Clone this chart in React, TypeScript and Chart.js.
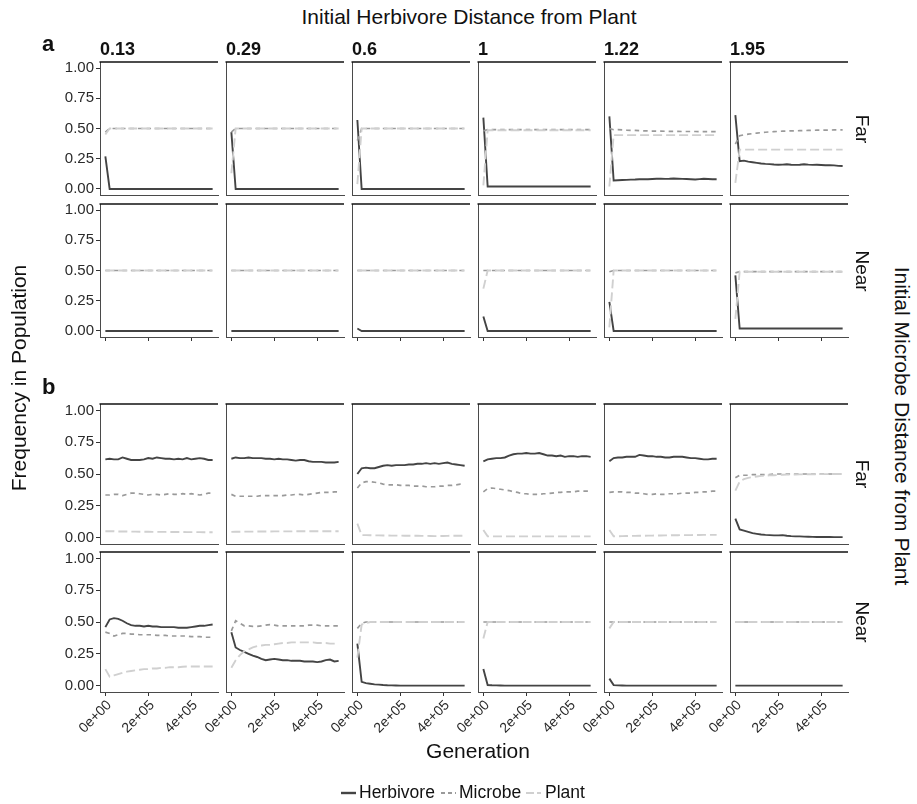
import React, { useEffect, useRef } from 'react';
import { Chart, registerables } from 'chart.js';

Chart.register(...registerables);

// ---------- data ----------
const generations = [
  0, 20000, 40000, 60000, 80000, 100000, 120000, 140000, 160000, 180000, 200000, 220000, 240000,
  260000, 280000, 300000, 320000, 340000, 360000, 380000, 400000, 420000, 440000, 460000, 480000, 500000,
];
const xTickValues = [0, 200000, 400000];
const xTickLabels = ['0e+00', '2e+05', '4e+05'];
const yTickValues = [0, 0.25, 0.5, 0.75, 1];
const yTickLabels = ['0.00', '0.25', '0.50', '0.75', '1.00'];
const herbivoreDistances = ['0.13', '0.29', '0.6', '1', '1.22', '1.95'];
const microbeDistances = ['Far', 'Near'];
const speciesNames = ['Herbivore', 'Microbe', 'Plant'];

// panel a, Far
const aFarHerbivore = [
  [0.27, 0, 0, 0, 0, 0, 0, 0, 0, 0, 0, 0, 0, 0, 0, 0, 0, 0, 0, 0, 0, 0, 0, 0, 0, 0],
  [0.47, 0, 0, 0, 0, 0, 0, 0, 0, 0, 0, 0, 0, 0, 0, 0, 0, 0, 0, 0, 0, 0, 0, 0, 0, 0],
  [0.57, 0, 0, 0, 0, 0, 0, 0, 0, 0, 0, 0, 0, 0, 0, 0, 0, 0, 0, 0, 0, 0, 0, 0, 0, 0],
  [0.59, 0.02, 0.02, 0.02, 0.02, 0.02, 0.02, 0.02, 0.02, 0.02, 0.02, 0.02, 0.02, 0.02, 0.02, 0.02, 0.02, 0.02, 0.02, 0.02, 0.02, 0.02, 0.02, 0.02, 0.02, 0.02],
  [0.6, 0.07, 0.072, 0.074, 0.075, 0.077, 0.078, 0.08, 0.081, 0.08, 0.082, 0.084, 0.085, 0.083, 0.084, 0.086, 0.085, 0.083, 0.082, 0.08, 0.078, 0.081, 0.084, 0.082, 0.08, 0.08],
  [0.61, 0.23, 0.234, 0.226, 0.221, 0.216, 0.211, 0.207, 0.205, 0.202, 0.2, 0.201, 0.204, 0.2, 0.199, 0.2, 0.204, 0.201, 0.199, 0.2, 0.198, 0.196, 0.196, 0.195, 0.191, 0.19],
];
const aFarMicrobe = [
  [0.47, 0.5, 0.5, 0.5, 0.5, 0.5, 0.5, 0.5, 0.5, 0.5, 0.5, 0.5, 0.5, 0.5, 0.5, 0.5, 0.5, 0.5, 0.5, 0.5, 0.5, 0.5, 0.5, 0.5, 0.5, 0.5],
  [0.47, 0.5, 0.5, 0.5, 0.5, 0.5, 0.5, 0.5, 0.5, 0.5, 0.5, 0.5, 0.5, 0.5, 0.5, 0.5, 0.5, 0.5, 0.5, 0.5, 0.5, 0.5, 0.5, 0.5, 0.5, 0.5],
  [0.4, 0.5, 0.5, 0.5, 0.5, 0.5, 0.5, 0.5, 0.5, 0.5, 0.5, 0.5, 0.5, 0.5, 0.5, 0.5, 0.5, 0.5, 0.5, 0.5, 0.5, 0.5, 0.5, 0.5, 0.5, 0.5],
  [0.48, 0.49, 0.49, 0.49, 0.49, 0.49, 0.49, 0.49, 0.49, 0.49, 0.49, 0.49, 0.49, 0.49, 0.49, 0.49, 0.49, 0.49, 0.49, 0.49, 0.49, 0.49, 0.49, 0.49, 0.49, 0.49],
  [0.5, 0.49, 0.49, 0.488, 0.486, 0.485, 0.484, 0.482, 0.481, 0.48, 0.479, 0.478, 0.478, 0.477, 0.476, 0.476, 0.476, 0.475, 0.475, 0.475, 0.475, 0.474, 0.474, 0.474, 0.474, 0.474],
  [0.37, 0.44, 0.448, 0.453, 0.458, 0.462, 0.466, 0.469, 0.472, 0.474, 0.476, 0.478, 0.479, 0.48, 0.481, 0.482, 0.483, 0.484, 0.485, 0.486, 0.486, 0.487, 0.487, 0.488, 0.488, 0.488],
];
const aFarPlant = [
  [0.45, 0.5, 0.5, 0.5, 0.5, 0.5, 0.5, 0.5, 0.5, 0.5, 0.5, 0.5, 0.5, 0.5, 0.5, 0.5, 0.5, 0.5, 0.5, 0.5, 0.5, 0.5, 0.5, 0.5, 0.5, 0.5],
  [0.13, 0.5, 0.5, 0.5, 0.5, 0.5, 0.5, 0.5, 0.5, 0.5, 0.5, 0.5, 0.5, 0.5, 0.5, 0.5, 0.5, 0.5, 0.5, 0.5, 0.5, 0.5, 0.5, 0.5, 0.5, 0.5],
  [0.04, 0.5, 0.5, 0.5, 0.5, 0.5, 0.5, 0.5, 0.5, 0.5, 0.5, 0.5, 0.5, 0.5, 0.5, 0.5, 0.5, 0.5, 0.5, 0.5, 0.5, 0.5, 0.5, 0.5, 0.5, 0.5],
  [0.03, 0.485, 0.485, 0.485, 0.485, 0.485, 0.485, 0.485, 0.485, 0.485, 0.485, 0.485, 0.485, 0.485, 0.485, 0.485, 0.485, 0.485, 0.485, 0.485, 0.485, 0.485, 0.485, 0.485, 0.485, 0.485],
  [0.02, 0.445, 0.445, 0.445, 0.445, 0.445, 0.445, 0.445, 0.445, 0.445, 0.445, 0.445, 0.445, 0.445, 0.445, 0.445, 0.445, 0.445, 0.445, 0.445, 0.445, 0.445, 0.445, 0.445, 0.445, 0.445],
  [0.05, 0.325, 0.325, 0.325, 0.325, 0.325, 0.325, 0.325, 0.325, 0.325, 0.325, 0.325, 0.325, 0.325, 0.325, 0.325, 0.325, 0.325, 0.325, 0.325, 0.325, 0.325, 0.325, 0.325, 0.325, 0.325],
];

// panel a, Near
const aNearHerbivore = [
  [0, 0, 0, 0, 0, 0, 0, 0, 0, 0, 0, 0, 0, 0, 0, 0, 0, 0, 0, 0, 0, 0, 0, 0, 0, 0],
  [0, 0, 0, 0, 0, 0, 0, 0, 0, 0, 0, 0, 0, 0, 0, 0, 0, 0, 0, 0, 0, 0, 0, 0, 0, 0],
  [0.02, 0, 0, 0, 0, 0, 0, 0, 0, 0, 0, 0, 0, 0, 0, 0, 0, 0, 0, 0, 0, 0, 0, 0, 0, 0],
  [0.12, 0, 0, 0, 0, 0, 0, 0, 0, 0, 0, 0, 0, 0, 0, 0, 0, 0, 0, 0, 0, 0, 0, 0, 0, 0],
  [0.24, 0, 0, 0, 0, 0, 0, 0, 0, 0, 0, 0, 0, 0, 0, 0, 0, 0, 0, 0, 0, 0, 0, 0, 0, 0],
  [0.46, 0.02, 0.02, 0.02, 0.02, 0.02, 0.02, 0.02, 0.02, 0.02, 0.02, 0.02, 0.02, 0.02, 0.02, 0.02, 0.02, 0.02, 0.02, 0.02, 0.02, 0.02, 0.02, 0.02, 0.02, 0.02],
];
const aNearMicrobe = [
  [0.5, 0.5, 0.5, 0.5, 0.5, 0.5, 0.5, 0.5, 0.5, 0.5, 0.5, 0.5, 0.5, 0.5, 0.5, 0.5, 0.5, 0.5, 0.5, 0.5, 0.5, 0.5, 0.5, 0.5, 0.5, 0.5],
  [0.5, 0.5, 0.5, 0.5, 0.5, 0.5, 0.5, 0.5, 0.5, 0.5, 0.5, 0.5, 0.5, 0.5, 0.5, 0.5, 0.5, 0.5, 0.5, 0.5, 0.5, 0.5, 0.5, 0.5, 0.5, 0.5],
  [0.5, 0.5, 0.5, 0.5, 0.5, 0.5, 0.5, 0.5, 0.5, 0.5, 0.5, 0.5, 0.5, 0.5, 0.5, 0.5, 0.5, 0.5, 0.5, 0.5, 0.5, 0.5, 0.5, 0.5, 0.5, 0.5],
  [0.5, 0.5, 0.5, 0.5, 0.5, 0.5, 0.5, 0.5, 0.5, 0.5, 0.5, 0.5, 0.5, 0.5, 0.5, 0.5, 0.5, 0.5, 0.5, 0.5, 0.5, 0.5, 0.5, 0.5, 0.5, 0.5],
  [0.49, 0.5, 0.5, 0.5, 0.5, 0.5, 0.5, 0.5, 0.5, 0.5, 0.5, 0.5, 0.5, 0.5, 0.5, 0.5, 0.5, 0.5, 0.5, 0.5, 0.5, 0.5, 0.5, 0.5, 0.5, 0.5],
  [0.48, 0.49, 0.49, 0.49, 0.49, 0.49, 0.49, 0.49, 0.49, 0.49, 0.49, 0.49, 0.49, 0.49, 0.49, 0.49, 0.49, 0.49, 0.49, 0.49, 0.49, 0.49, 0.49, 0.49, 0.49, 0.49],
];
const aNearPlant = [
  [0.5, 0.5, 0.5, 0.5, 0.5, 0.5, 0.5, 0.5, 0.5, 0.5, 0.5, 0.5, 0.5, 0.5, 0.5, 0.5, 0.5, 0.5, 0.5, 0.5, 0.5, 0.5, 0.5, 0.5, 0.5, 0.5],
  [0.5, 0.5, 0.5, 0.5, 0.5, 0.5, 0.5, 0.5, 0.5, 0.5, 0.5, 0.5, 0.5, 0.5, 0.5, 0.5, 0.5, 0.5, 0.5, 0.5, 0.5, 0.5, 0.5, 0.5, 0.5, 0.5],
  [0.5, 0.5, 0.5, 0.5, 0.5, 0.5, 0.5, 0.5, 0.5, 0.5, 0.5, 0.5, 0.5, 0.5, 0.5, 0.5, 0.5, 0.5, 0.5, 0.5, 0.5, 0.5, 0.5, 0.5, 0.5, 0.5],
  [0.35, 0.5, 0.5, 0.5, 0.5, 0.5, 0.5, 0.5, 0.5, 0.5, 0.5, 0.5, 0.5, 0.5, 0.5, 0.5, 0.5, 0.5, 0.5, 0.5, 0.5, 0.5, 0.5, 0.5, 0.5, 0.5],
  [0.03, 0.5, 0.5, 0.5, 0.5, 0.5, 0.5, 0.5, 0.5, 0.5, 0.5, 0.5, 0.5, 0.5, 0.5, 0.5, 0.5, 0.5, 0.5, 0.5, 0.5, 0.5, 0.5, 0.5, 0.5, 0.5],
  [0.1, 0.49, 0.49, 0.49, 0.49, 0.49, 0.49, 0.49, 0.49, 0.49, 0.49, 0.49, 0.49, 0.49, 0.49, 0.49, 0.49, 0.49, 0.49, 0.49, 0.49, 0.49, 0.49, 0.49, 0.49, 0.49],
];

// panel b, Far
const bFarHerbivore = [
  [0.615, 0.62, 0.615, 0.615, 0.63, 0.62, 0.61, 0.61, 0.61, 0.615, 0.625, 0.62, 0.63, 0.625, 0.62, 0.62, 0.615, 0.62, 0.615, 0.625, 0.615, 0.62, 0.625, 0.62, 0.61, 0.61],
  [0.62, 0.63, 0.625, 0.625, 0.63, 0.625, 0.625, 0.625, 0.62, 0.62, 0.615, 0.62, 0.615, 0.615, 0.61, 0.605, 0.61, 0.61, 0.6, 0.595, 0.595, 0.595, 0.59, 0.59, 0.59, 0.595],
  [0.5, 0.545, 0.55, 0.545, 0.545, 0.555, 0.565, 0.57, 0.565, 0.57, 0.57, 0.57, 0.575, 0.575, 0.58, 0.58, 0.585, 0.58, 0.585, 0.58, 0.585, 0.59, 0.58, 0.575, 0.57, 0.565],
  [0.6, 0.615, 0.62, 0.625, 0.625, 0.63, 0.645, 0.655, 0.66, 0.66, 0.665, 0.66, 0.66, 0.665, 0.655, 0.645, 0.645, 0.64, 0.645, 0.635, 0.64, 0.64, 0.635, 0.64, 0.64, 0.635],
  [0.6, 0.625, 0.63, 0.63, 0.635, 0.635, 0.635, 0.65, 0.645, 0.64, 0.64, 0.635, 0.635, 0.63, 0.63, 0.635, 0.635, 0.635, 0.63, 0.625, 0.625, 0.62, 0.615, 0.615, 0.62, 0.62],
  [0.15, 0.065, 0.055, 0.045, 0.035, 0.03, 0.025, 0.022, 0.02, 0.018, 0.018, 0.02, 0.015, 0.012, 0.01, 0.01, 0.008, 0.007, 0.006, 0.005, 0.005, 0.005, 0.005, 0.004, 0.004, 0.004],
];
const bFarMicrobe = [
  [0.335, 0.335, 0.34, 0.34, 0.33, 0.34, 0.35, 0.35, 0.345, 0.34, 0.335, 0.34, 0.34, 0.335, 0.34, 0.345, 0.34, 0.34, 0.345, 0.34, 0.345, 0.34, 0.335, 0.34, 0.35, 0.35],
  [0.34, 0.325, 0.325, 0.325, 0.325, 0.325, 0.325, 0.33, 0.33, 0.33, 0.33, 0.33, 0.33, 0.335, 0.335, 0.34, 0.34, 0.335, 0.34, 0.345, 0.35, 0.355, 0.355, 0.355, 0.36, 0.36],
  [0.39, 0.43, 0.44, 0.44, 0.435, 0.43, 0.42, 0.415, 0.415, 0.415, 0.41, 0.41, 0.41, 0.405, 0.405, 0.405, 0.4, 0.4, 0.4, 0.405, 0.405, 0.41, 0.41, 0.415, 0.42, 0.42],
  [0.36, 0.385, 0.39, 0.385, 0.38, 0.375, 0.37, 0.36, 0.355, 0.345, 0.345, 0.34, 0.34, 0.34, 0.345, 0.345, 0.35, 0.355, 0.355, 0.36, 0.36, 0.36, 0.365, 0.365, 0.365, 0.365],
  [0.355, 0.36, 0.36, 0.36, 0.355, 0.355, 0.35, 0.35, 0.345, 0.34, 0.34, 0.345, 0.34, 0.34, 0.345, 0.345, 0.345, 0.35, 0.35, 0.35, 0.355, 0.355, 0.36, 0.36, 0.365, 0.365],
  [0.47, 0.49, 0.49, 0.49, 0.495, 0.495, 0.495, 0.495, 0.495, 0.5, 0.5, 0.5, 0.5, 0.5, 0.5, 0.5, 0.5, 0.5, 0.5, 0.5, 0.5, 0.5, 0.5, 0.5, 0.5, 0.5],
];
const bFarPlant = [
  [0.05, 0.05, 0.05, 0.048, 0.048, 0.048, 0.047, 0.047, 0.046, 0.046, 0.046, 0.045, 0.045, 0.045, 0.045, 0.044, 0.044, 0.044, 0.044, 0.043, 0.043, 0.043, 0.043, 0.042, 0.042, 0.042],
  [0.045, 0.046, 0.046, 0.047, 0.047, 0.047, 0.048, 0.048, 0.048, 0.048, 0.049, 0.049, 0.049, 0.049, 0.049, 0.05, 0.05, 0.05, 0.05, 0.05, 0.05, 0.05, 0.05, 0.05, 0.05, 0.05],
  [0.11, 0.02, 0.02, 0.019, 0.018, 0.018, 0.017, 0.017, 0.016, 0.016, 0.016, 0.015, 0.015, 0.015, 0.015, 0.014, 0.014, 0.013, 0.012, 0.012, 0.013, 0.014, 0.015, 0.015, 0.015, 0.015],
  [0.06, 0.01, 0.01, 0.01, 0.01, 0.01, 0.01, 0.01, 0.01, 0.01, 0.01, 0.01, 0.01, 0.01, 0.01, 0.01, 0.01, 0.01, 0.01, 0.01, 0.01, 0.01, 0.01, 0.01, 0.01, 0.01],
  [0.06, 0.01, 0.011, 0.012, 0.013, 0.014, 0.014, 0.015, 0.015, 0.016, 0.016, 0.017, 0.017, 0.018, 0.018, 0.019, 0.019, 0.02, 0.02, 0.02, 0.021, 0.021, 0.022, 0.022, 0.022, 0.022],
  [0.37, 0.44, 0.46, 0.47, 0.475, 0.48, 0.485, 0.487, 0.49, 0.49, 0.492, 0.494, 0.495, 0.495, 0.496, 0.497, 0.497, 0.498, 0.498, 0.498, 0.499, 0.499, 0.499, 0.5, 0.5, 0.5],
];

// panel b, Near
const bNearHerbivore = [
  [0.46, 0.52, 0.53, 0.525, 0.51, 0.49, 0.475, 0.47, 0.47, 0.465, 0.47, 0.465, 0.465, 0.46, 0.46, 0.46, 0.46, 0.455, 0.455, 0.455, 0.46, 0.465, 0.47, 0.47, 0.475, 0.48],
  [0.42, 0.3, 0.28, 0.265, 0.25, 0.235, 0.225, 0.21, 0.2, 0.205, 0.21, 0.205, 0.2, 0.2, 0.195, 0.195, 0.195, 0.19, 0.19, 0.19, 0.185, 0.19, 0.2, 0.205, 0.19, 0.195],
  [0.33, 0.03, 0.02, 0.015, 0.01, 0.008, 0.005, 0.003, 0.002, 0.001, 0, 0, 0, 0, 0, 0, 0, 0, 0, 0, 0, 0, 0, 0, 0, 0],
  [0.13, 0.005, 0.003, 0.002, 0.001, 0, 0, 0, 0, 0, 0, 0, 0, 0, 0, 0, 0, 0, 0, 0, 0, 0, 0, 0, 0, 0],
  [0.055, 0.004, 0.002, 0.001, 0, 0, 0, 0, 0, 0, 0, 0, 0, 0, 0, 0, 0, 0, 0, 0, 0, 0, 0, 0, 0, 0],
  [0, 0, 0, 0, 0, 0, 0, 0, 0, 0, 0, 0, 0, 0, 0, 0, 0, 0, 0, 0, 0, 0, 0, 0, 0, 0],
];
const bNearMicrobe = [
  [0.42, 0.41, 0.39, 0.4, 0.41, 0.41, 0.405, 0.405, 0.4, 0.4, 0.4, 0.4, 0.395, 0.395, 0.395, 0.39, 0.39, 0.39, 0.39, 0.39, 0.385, 0.385, 0.385, 0.38, 0.38, 0.38],
  [0.43, 0.51, 0.49, 0.47, 0.47, 0.465, 0.465, 0.47, 0.475, 0.48, 0.475, 0.47, 0.47, 0.47, 0.47, 0.47, 0.47, 0.47, 0.475, 0.475, 0.475, 0.47, 0.47, 0.47, 0.47, 0.47],
  [0.45, 0.49, 0.5, 0.5, 0.5, 0.5, 0.5, 0.5, 0.5, 0.5, 0.5, 0.5, 0.5, 0.5, 0.5, 0.5, 0.5, 0.5, 0.5, 0.5, 0.5, 0.5, 0.5, 0.5, 0.5, 0.5],
  [0.5, 0.5, 0.5, 0.5, 0.5, 0.5, 0.5, 0.5, 0.5, 0.5, 0.5, 0.5, 0.5, 0.5, 0.5, 0.5, 0.5, 0.5, 0.5, 0.5, 0.5, 0.5, 0.5, 0.5, 0.5, 0.5],
  [0.5, 0.5, 0.5, 0.5, 0.5, 0.5, 0.5, 0.5, 0.5, 0.5, 0.5, 0.5, 0.5, 0.5, 0.5, 0.5, 0.5, 0.5, 0.5, 0.5, 0.5, 0.5, 0.5, 0.5, 0.5, 0.5],
  [0.5, 0.5, 0.5, 0.5, 0.5, 0.5, 0.5, 0.5, 0.5, 0.5, 0.5, 0.5, 0.5, 0.5, 0.5, 0.5, 0.5, 0.5, 0.5, 0.5, 0.5, 0.5, 0.5, 0.5, 0.5, 0.5],
];
const bNearPlant = [
  [0.13, 0.07, 0.08, 0.09, 0.1, 0.11, 0.115, 0.12, 0.125, 0.13, 0.13, 0.135, 0.135, 0.14, 0.14, 0.145, 0.145, 0.145, 0.148, 0.15, 0.15, 0.15, 0.15, 0.15, 0.15, 0.15],
  [0.14, 0.2, 0.24, 0.27, 0.285, 0.3, 0.31, 0.315, 0.32, 0.32, 0.325, 0.33, 0.335, 0.335, 0.34, 0.34, 0.34, 0.34, 0.34, 0.34, 0.335, 0.335, 0.335, 0.33, 0.33, 0.33],
  [0.22, 0.48, 0.49, 0.5, 0.5, 0.5, 0.5, 0.5, 0.5, 0.5, 0.5, 0.5, 0.5, 0.5, 0.5, 0.5, 0.5, 0.5, 0.5, 0.5, 0.5, 0.5, 0.5, 0.5, 0.5, 0.5],
  [0.37, 0.5, 0.5, 0.5, 0.5, 0.5, 0.5, 0.5, 0.5, 0.5, 0.5, 0.5, 0.5, 0.5, 0.5, 0.5, 0.5, 0.5, 0.5, 0.5, 0.5, 0.5, 0.5, 0.5, 0.5, 0.5],
  [0.45, 0.5, 0.5, 0.5, 0.5, 0.5, 0.5, 0.5, 0.5, 0.5, 0.5, 0.5, 0.5, 0.5, 0.5, 0.5, 0.5, 0.5, 0.5, 0.5, 0.5, 0.5, 0.5, 0.5, 0.5, 0.5],
  [0.5, 0.5, 0.5, 0.5, 0.5, 0.5, 0.5, 0.5, 0.5, 0.5, 0.5, 0.5, 0.5, 0.5, 0.5, 0.5, 0.5, 0.5, 0.5, 0.5, 0.5, 0.5, 0.5, 0.5, 0.5, 0.5],
];

// ---------- styling / layout ----------
const FONT = '"Liberation Sans", Arial, Helvetica, sans-serif';
const herbColor = '#444444';
const micColor = '#9a9a9a';
const plantColor = '#d0d0d0';
const micDash = [4.5, 4];
const plantDash = [9, 4];

const M_L = 50;
const M_R = 4;
const M_T = 16;
const M_B = 52;
const colLefts = [100, 226, 352, 478, 604, 730];
const panelW = 118;

const rowDefs = [
  { top: 62, h: 133, herb: aFarHerbivore, mic: aFarMicrobe, pla: aFarPlant, ticksX: false, labelsX: false, strip: 0 },
  { top: 204, h: 133, herb: aNearHerbivore, mic: aNearMicrobe, pla: aNearPlant, ticksX: true, labelsX: false, strip: 1 },
  { top: 404, h: 140, herb: bFarHerbivore, mic: bFarMicrobe, pla: bFarPlant, ticksX: false, labelsX: false, strip: 0 },
  { top: 552, h: 140, herb: bNearHerbivore, mic: bNearMicrobe, pla: bNearPlant, ticksX: true, labelsX: true, strip: 1 },
];

const topLinePlugin = {
  id: 'topLine',
  afterDraw(chart: any) {
    const { ctx, chartArea: a } = chart;
    ctx.save();
    ctx.strokeStyle = '#111111';
    ctx.lineWidth = 1.6;
    ctx.beginPath();
    ctx.moveTo(a.left - 0.5, a.top);
    ctx.lineTo(a.right, a.top);
    ctx.stroke();
    ctx.restore();
  },
};

function series(vals: number[]) {
  return generations.map((g, i) => ({ x: g, y: vals[i] }));
}

type PanelProps = {
  left: number;
  top: number;
  h: number;
  herb: number[];
  mic: number[];
  pla: number[];
  showY: boolean;
  ticksX: boolean;
  labelsX: boolean;
};

function Panel({ left, top, h, herb, mic, pla, showY, ticksX, labelsX }: PanelProps) {
  const ref = useRef<HTMLCanvasElement>(null);
  const cw = M_L + panelW + M_R;
  const ch = M_T + h + M_B;
  useEffect(() => {
    const chart = new Chart(ref.current as HTMLCanvasElement, {
      type: 'line',
      data: {
        datasets: [
          { label: speciesNames[2], data: series(pla), borderColor: plantColor, borderWidth: 1.9, borderDash: plantDash, pointRadius: 0, fill: false, tension: 0 },
          { label: speciesNames[1], data: series(mic), borderColor: micColor, borderWidth: 1.7, borderDash: micDash, pointRadius: 0, fill: false, tension: 0 },
          { label: speciesNames[0], data: series(herb), borderColor: herbColor, borderWidth: 1.9, pointRadius: 0, fill: false, tension: 0 },
        ],
      },
      options: {
        animation: false,
        responsive: false,
        maintainAspectRatio: false,
        devicePixelRatio: 1,
        events: [],
        layout: { padding: { top: M_T, right: M_R, left: 0, bottom: 0 } },
        plugins: { legend: { display: false }, tooltip: { enabled: false }, title: { display: false } },
        scales: {
          x: {
            type: 'linear',
            min: -25000,
            max: 525000,
            afterFit: (s: any) => {
              s.height = M_B;
            },
            afterBuildTicks: (s: any) => {
              s.ticks = xTickValues.map((v) => ({ value: v }));
            },
            ticks: {
              display: labelsX,
              autoSkip: false,
              minRotation: 45,
              maxRotation: 45,
              padding: 1,
              labelOffset: 4,
              color: '#2a2a2a',
              font: { family: FONT, size: 14 },
              callback: (_v: any, i: number) => xTickLabels[i],
            },
            grid: { display: true, drawOnChartArea: false, drawTicks: ticksX, tickLength: 4, color: '#333333', lineWidth: 1 },
            border: { display: true, color: '#4a4a4a', width: 1 },
          },
          y: {
            type: 'linear',
            min: -0.05,
            max: 1.05,
            afterFit: (s: any) => {
              s.width = M_L;
            },
            afterBuildTicks: (s: any) => {
              s.ticks = yTickValues.map((v) => ({ value: v }));
            },
            ticks: {
              display: showY,
              autoSkip: false,
              padding: 2,
              color: '#2a2a2a',
              font: { family: FONT, size: 15 },
              callback: (_v: any, i: number) => yTickLabels[i],
            },
            grid: { display: true, drawOnChartArea: false, drawTicks: showY, tickLength: 4, color: '#333333', lineWidth: 1 },
            border: { display: true, color: '#4a4a4a', width: 1 },
          },
        },
      } as any,
      plugins: [topLinePlugin],
    });
    return () => chart.destroy();
  }, []);
  return (
    <canvas
      ref={ref}
      width={cw}
      height={ch}
      style={{ position: 'absolute', left: left - M_L, top: top - M_T, width: cw, height: ch }}
    />
  );
}

type TextProps = {
  x: number;
  y: number;
  text: string;
  size: number;
  bold?: boolean;
  rotate?: number;
  anchor?: 'center' | 'left';
};

function Txt({ x, y, text, size, bold, rotate = 0, anchor = 'center' }: TextProps) {
  const tx = anchor === 'center' ? '-50%' : '0';
  return (
    <div
      style={{
        position: 'absolute',
        left: x,
        top: y,
        transform: `translate(${tx}, -50%) rotate(${rotate}deg)`,
        fontFamily: FONT,
        fontSize: size,
        fontWeight: bold ? 700 : 400,
        lineHeight: 1,
        whiteSpace: 'nowrap',
        color: '#111',
      }}
    >
      {text}
    </div>
  );
}

const legendItems = [
  { name: speciesNames[0], keyX: 341, textX: 359, color: herbColor, dash: '', w: 2.4 },
  { name: speciesNames[1], keyX: 441, textX: 459, color: micColor, dash: '4 3', w: 2 },
  { name: speciesNames[2], keyX: 526, textX: 545, color: plantColor, dash: '8 3', w: 2.2 },
];

export default function App() {
  return (
    <div style={{ position: 'absolute', left: 0, top: 0, width: 917, height: 804, background: '#fff', overflow: 'hidden' }}>
      {rowDefs.map((r, ri) =>
        colLefts.map((cl, ci) => (
          <Panel
            key={`${ri}-${ci}`}
            left={cl}
            top={r.top}
            h={r.h}
            herb={r.herb[ci]}
            mic={r.mic[ci]}
            pla={r.pla[ci]}
            showY={ci === 0}
            ticksX={r.ticksX}
            labelsX={r.labelsX}
          />
        ))
      )}
      <Txt x={469} y={16} text="Initial Herbivore Distance from Plant" size={21} />
      {herbivoreDistances.map((d, i) => (
        <Txt key={d} x={colLefts[i]} y={48.5} text={d} size={18} bold anchor="left" />
      ))}
      <Txt x={42} y={44} text="a" size={22} bold anchor="left" />
      <Txt x={42} y={386.5} text="b" size={22} bold anchor="left" />
      {rowDefs.map((r, ri) => (
        <Txt key={`s${ri}`} x={862} y={r.top + r.h / 2} text={microbeDistances[r.strip]} size={19} rotate={90} />
      ))}
      <Txt x={17.5} y={378} text="Frequency in Population" size={21} rotate={-90} />
      <Txt x={902} y={426} text="Initial Microbe Distance from Plant" size={21} rotate={90} />
      <Txt x={478} y={750} text="Generation" size={21} />
      {legendItems.map((it) => (
        <React.Fragment key={it.name}>
          <svg width={15} height={6} style={{ position: 'absolute', left: it.keyX, top: 790 }}>
            <line x1={0} y1={3} x2={15} y2={3} stroke={it.color} strokeWidth={it.w} strokeDasharray={it.dash || undefined} />
          </svg>
          <Txt x={it.textX} y={793} text={it.name} size={17.5} anchor="left" />
        </React.Fragment>
      ))}
    </div>
  );
}
